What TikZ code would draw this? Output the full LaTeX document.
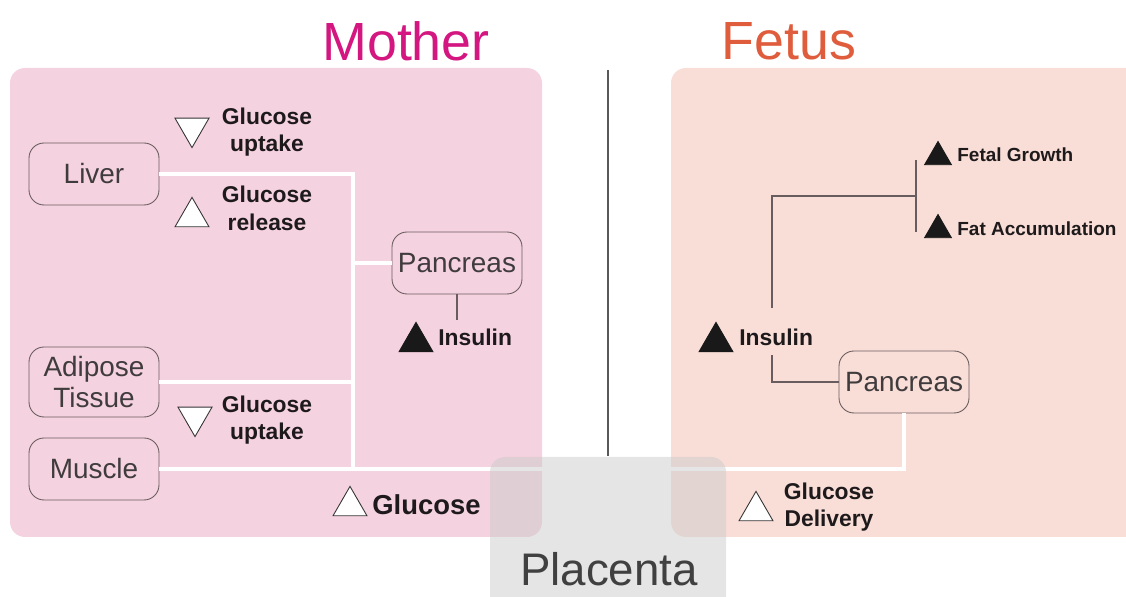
\documentclass[tikz,border=0pt]{standalone}
\usepackage{fontspec}
\setmainfont{Liberation Sans}
\usepackage{xcolor}
\usepackage{tikz}
\usetikzlibrary{positioning, shapes.geometric}

\definecolor{motherpink}{RGB}{245,210,223}
\definecolor{fetuspink}{RGB}{249,221,215}
\definecolor{mothertxt}{RGB}{211,22,128}
\definecolor{fetustxt}{RGB}{223,93,60}
\definecolor{rimgray}{RGB}{105,92,94}
\definecolor{inkgray}{RGB}{30,26,28}

\begin{document}
\begin{tikzpicture}[x=0.02cm, y=-0.02cm,
  organ/.style={draw=rimgray, line width=0.5pt, rounded corners=0.3cm,
    minimum width=2.6cm, minimum height=1.24cm, align=center, inner sep=1pt,
    text=inkgray!85, font=\fontsize{15.9}{17.5}\selectfont},
  effect/.style={align=center, text=inkgray, inner sep=0pt,
    font=\bfseries\fontsize{13}{15.8}\selectfont},
  tri/.style={regular polygon, regular polygon sides=3, minimum size=0.785cm,
    inner sep=0pt, outer sep=0pt, draw=black!80, line width=0.5pt, fill=white},
  tridown/.style={tri, shape border rotate=180},
  trifull/.style={tri, fill=black!90, draw=black!90},
  whiteline/.style={white, line width=1.8pt},
  thinline/.style={rimgray, line width=0.75pt}]

  \useasboundingbox (0,0) rectangle (1126,597);
  % panels and divider
  \fill[motherpink, rounded corners=0.3cm] (10,68) rectangle (542,537);
  \fill[fetuspink, rounded corners=0.3cm] (671,68) rectangle (1150,537);
  \draw[black!65, line width=1.1pt] (608,70) -- (608,456);
  % titles
  \node[text=mothertxt, font=\fontsize{30.6}{34}\selectfont] (mother) at (406,41) {Mother};
  \node[text=fetustxt, font=\fontsize{30.6}{34}\selectfont] (fetus) at (789,41) {Fetus};

  % Mother side: organs
  \node[organ] (liver) at (94,174) {Liver};
  \node[organ, minimum height=1.4cm] (adipose) at (94,382) {Adipose\\Tissue};
  \node[organ] (muscle) at (94,469) {Muscle};
  \node[organ] (mpancreas) at (457,263) {Pancreas};
  % Fetus side: organ
  \node[organ] (fpancreas) at (904,382) {Pancreas};

  % white glucose lines
  \coordinate (mtrunk) at (353,469);
  \draw[whiteline] (liver.east) -| (mtrunk);
  \draw[whiteline] (adipose.east) -- (adipose.east -| mtrunk);
  \draw[whiteline] (mpancreas.west) -- (mpancreas.west -| mtrunk);
  \draw[whiteline] (muscle.east) -| (fpancreas.south);

  % Mother effects
  \node[tridown] (upt1) at (192,128) {};
  \node[effect] (upt1txt) at (267,132) {Glucose\\uptake};
  \node[tri] (rel) at (192,217) {};
  \node[effect] (reltxt) at (267,208) {Glucose\\release};
  \node[tridown] (upt2) at (195,417) {};
  \node[effect] (upt2txt) at (267,420) {Glucose\\uptake};
  \node[tri] (gluc) at (350,506) {};
  \node[effect, anchor=west, font=\bfseries\fontsize{15.6}{18}\selectfont] (gluctxt) at (372,505) {Glucose};
  \node[trifull] (mins) at (416,342) {};
  \node[effect, anchor=west] (minstxt) at (438,337) {Insulin};
  \coordinate (minstop) at (457,320);
  \draw[thinline] (mpancreas.south) -- (minstop);

  % Fetus effects
  \node[trifull] (fins) at (716,342) {};
  \node[effect, anchor=west] (finstxt) at (739,337) {Insulin};
  \coordinate (finsbot) at (772,355);
  \coordinate (finstop) at (772,308);
  \coordinate (fsplit) at (916,196);
  \coordinate (fsplittop) at (916,160);
  \coordinate (fsplitbot) at (916,232);
  \draw[thinline] (fpancreas.west) -| (finsbot);
  \draw[thinline] (finstop) |- (fsplit);
  \draw[thinline] (fsplittop) -- (fsplitbot);
  \node[trifull, minimum size=0.62cm] (grow) at (938,157) {};
  \node[effect, anchor=west, font=\bfseries\fontsize{10.8}{12}\selectfont] (growtxt) at (957,155) {Fetal Growth};
  \node[trifull, minimum size=0.62cm] (fat) at (938,230) {};
  \node[effect, anchor=west, font=\bfseries\fontsize{10.8}{12}\selectfont] (fattxt) at (957,229) {Fat Accumulation};
  \node[tri] (deliv) at (756,511) {};
  \node[effect] (delivtxt) at (829,507) {Glucose\\Delivery};

  % placenta overlay
  \fill[black!20, opacity=0.5, rounded corners=0.3cm] (490,457) rectangle (726,630);
  \node[text=black!75, font=\fontsize{26}{30}\selectfont] (placenta) at (609,569) {Placenta};
\end{tikzpicture}
\end{document}
